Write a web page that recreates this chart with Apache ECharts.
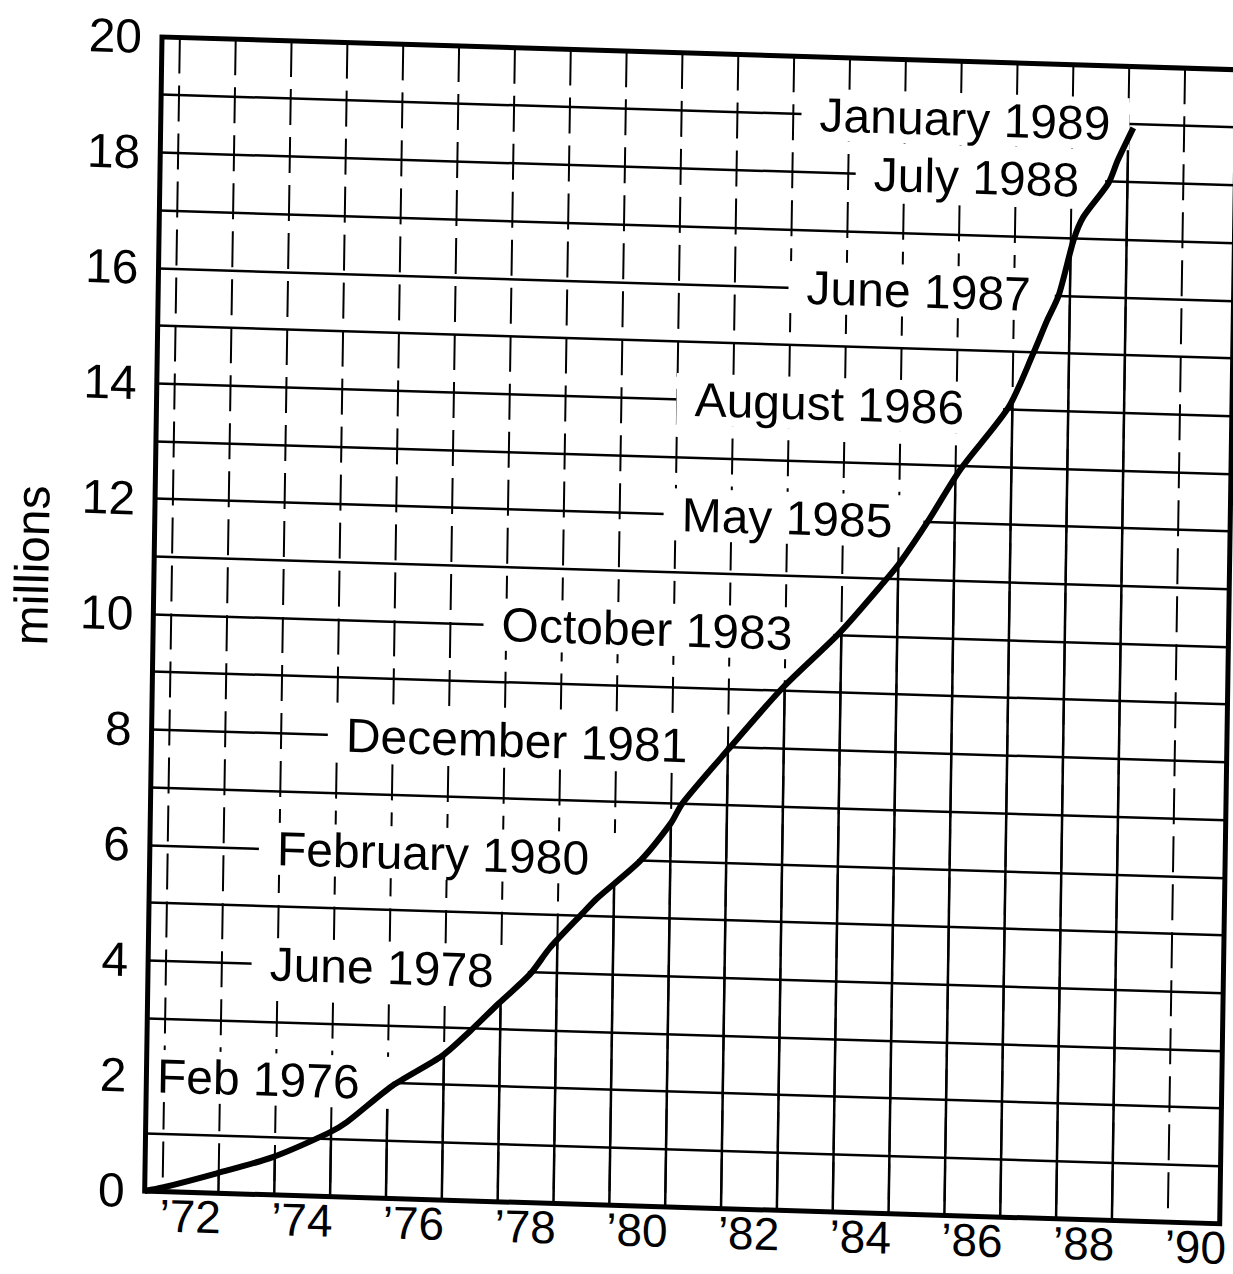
<!DOCTYPE html>
<html>
<head>
<meta charset="utf-8">
<script src="https://cdn.jsdelivr.net/npm/echarts@6/dist/echarts.min.js"></script>
<style>
html, body { margin: 0; padding: 0; overflow: hidden; background: #fff; width: 1233px; height: 1274px; }
#chart { position: absolute; left: 0; top: 0; width: 1260px; height: 1274px;
  transform-origin: 162px 37px; transform: matrix(1, 0.0305, -0.015, 1, 0, 0); }
</style>
</head>
<body>
<div id="chart"></div>
<script>
// ---- data ----
const curveYears  = [1971.68, 1972.0, 1972.95, 1973.95, 1974.95, 1975.28, 1976.08, 1976.97, 1977.46, 1977.96,
                     1978.52, 1978.87, 1979.45, 1979.7, 1980.46, 1981.0, 1981.2, 1982.0, 1982.96, 1983.98,
                     1984.8, 1985.04, 1985.51, 1986.08, 1986.93, 1987.36, 1987.6, 1987.8, 1988.05, 1988.22,
                     1988.66, 1988.82, 1989.09];
const curveValues = [0, 0.07, 0.34, 0.65, 1.1, 1.3, 1.95, 2.5, 2.94, 3.43,
                     3.96, 4.43, 5.05, 5.31, 5.98, 6.65, 7.0, 7.95, 9.05, 10.05,
                     11.0, 11.3, 12.0, 12.92, 14.03, 14.98, 15.56, 16.0, 16.96, 17.37,
                     17.97, 18.37, 18.94];
const milestoneLabels = ['Feb 1976', 'June 1978', 'February 1980', 'December 1981', 'October 1983',
                         'May 1985', 'August 1986', 'June 1987', 'July 1988', 'January 1989'];
const milestoneValues = [2, 4, 6, 8, 10, 12, 14, 16, 18, 19];
const gridYears = [1972, 1973, 1974, 1975, 1976, 1977, 1978, 1979, 1980, 1981,
                   1982, 1983, 1984, 1985, 1986, 1987, 1988, 1989, 1990];
const xTickYears  = [1972, 1974, 1976, 1978, 1980, 1982, 1984, 1986, 1988, 1990];
const xTickLabels = ['\u201972', '\u201974', '\u201976', '\u201978', '\u201980', '\u201982', '\u201984', '\u201986', '\u201988', '\u201990'];
const yTickValues = [0, 2, 4, 6, 8, 10, 12, 14, 16, 18, 20];
const yAxisName = 'millions';

// ---- layout (pixels between label text end and the curve) ----
const labelGap = [37, 38, 52, 43, 45, 35, 43, 28, 30, 23];
const FONT = '"Liberation Sans", Arial, Helvetica, sans-serif';

function valueAt(t) {
  const n = curveYears.length;
  if (t < curveYears[0] || t > curveYears[n - 1]) return null;
  for (let i = 0; i < n - 1; i++) {
    if (t <= curveYears[i + 1]) {
      const f = (t - curveYears[i]) / (curveYears[i + 1] - curveYears[i]);
      return curveValues[i] + f * (curveValues[i + 1] - curveValues[i]);
    }
  }
  return curveValues[n - 1];
}
function yearAt(v) {
  const n = curveValues.length;
  for (let i = 0; i < n - 1; i++) {
    if (v <= curveValues[i + 1]) {
      const f = (v - curveValues[i]) / (curveValues[i + 1] - curveValues[i]);
      return curveYears[i] + f * (curveYears[i + 1] - curveYears[i]);
    }
  }
  return curveYears[n - 1];
}

const chart = echarts.init(document.getElementById('chart'), null, { renderer: 'svg' });
chart.setOption({
  animation: false,
  backgroundColor: '#fff',
  grid: { left: 162, top: 37, width: 1075, height: 1154, show: false },
  graphic: [{
    type: 'text', x: 40, y: 569, rotation: Math.PI / 2, silent: true,
    style: { text: yAxisName, fontSize: 48, fontFamily: FONT, fill: '#000', align: 'center', verticalAlign: 'middle' }
  }],
  xAxis: {
    type: 'value', min: 1971.68, max: 1990.93,
    axisLine: { show: false }, axisTick: { show: false }, splitLine: { show: false },
    axisLabel: {
      customValues: xTickYears.map(y => y + 0.5),
      formatter: v => xTickLabels[xTickYears.indexOf(Math.round(v - 0.5))],
      fontSize: 46, lineHeight: 38, fontFamily: FONT, color: '#000', margin: 5
    }
  },
  yAxis: {
    type: 'value', min: 0, max: 20, interval: 1,
    axisLine: { show: false }, axisTick: { show: false },
    splitLine: { show: true, lineStyle: { color: '#000', width: 2.5 } },
    axisLabel: { customValues: yTickValues, fontSize: 48, fontFamily: FONT, color: '#000', margin: 20 }
  },
  series: [
    {
      type: 'custom', name: 'year lines', z: 2, silent: true,
      data: gridYears.map(y => [y, 0]),
      encode: { x: 0, y: 1 },
      renderItem(params, api) {
        const t = api.value(0);
        const top = api.coord([t, 20]), bot = api.coord([t, 0]);
        const children = [{
          type: 'line', shape: { x1: top[0], y1: top[1], x2: bot[0], y2: bot[1] },
          style: { stroke: '#000', lineWidth: 2, lineDash: [36, 12] }
        }];
        const v = valueAt(t);
        if (v !== null) {
          const c = api.coord([t, v]);
          children.push({
            type: 'line', shape: { x1: bot[0], y1: bot[1], x2: c[0], y2: c[1] },
            style: { stroke: '#000', lineWidth: 2.5 }
          });
        }
        return { type: 'group', children };
      }
    },
    {
      type: 'custom', name: 'milestones', z: 4, silent: true,
      data: milestoneValues.map((v, i) => [yearAt(v), v, i]),
      encode: { x: 0, y: 1 },
      renderItem(params, api) {
        const i = api.value(2);
        const c = api.coord([api.value(0), api.value(1)]);
        return {
          type: 'text', x: c[0] - 4, y: c[1],
          style: {
            text: milestoneLabels[i], align: 'right', verticalAlign: 'middle',
            fontSize: 48, fontFamily: FONT, fill: '#000',
            backgroundColor: '#fff', padding: [4, labelGap[i] - 4, 4, 18], lineHeight: 44
          }
        };
      }
    },
    {
      type: 'line', name: 'total', z: 5, silent: true,
      data: curveYears.map((y, i) => [y, curveValues[i]]),
      showSymbol: false, smooth: 0.25,
      lineStyle: { color: '#000', width: 6 }
    },
    {
      type: 'custom', name: 'frame', z: 10, silent: true,
      data: [[1980, 10]],
      encode: { x: 0, y: 1 },
      renderItem(params, api) {
        const cs = params.coordSys;
        return {
          type: 'rect', shape: { x: cs.x, y: cs.y, width: cs.width, height: cs.height },
          style: { fill: 'none', stroke: '#000', lineWidth: 5 }
        };
      }
    }
  ]
});
</script>
</body>
</html>
